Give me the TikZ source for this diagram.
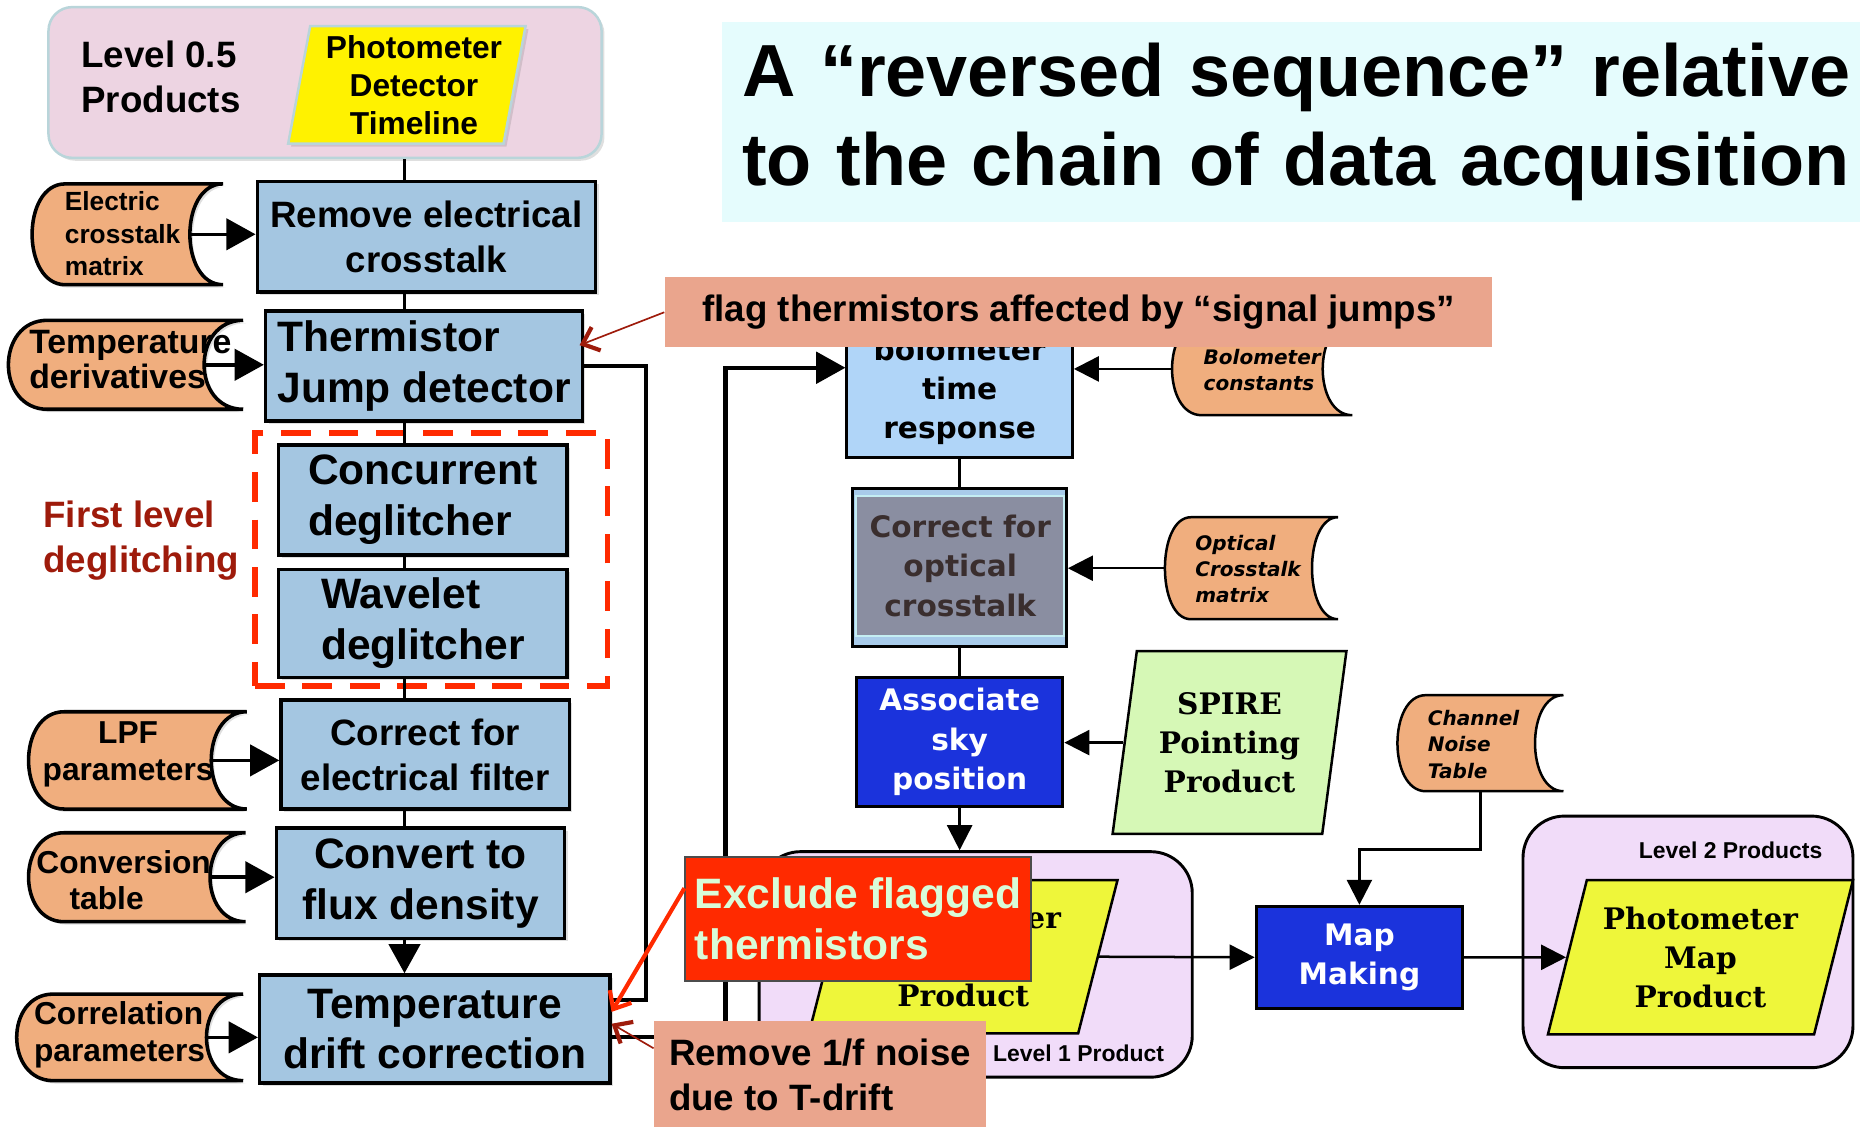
\documentclass[tikz,border=0pt]{standalone}
\usepackage{fontspec}
\setmainfont{Liberation Sans}
\newfontfamily\dejasans{DejaVu Sans}
\newfontfamily\dejaserif{DejaVu Serif}
\usepackage{xcolor}
\usepackage{tikz}
\usetikzlibrary{shapes.geometric, arrows.meta, positioning, shadows}

\definecolor{stepblue}{HTML}{A4C6E1}
\definecolor{tapeorange}{HTML}{F0AE7E}
\definecolor{levelpink}{HTML}{EDD4E2}
\definecolor{levelrim}{HTML}{B9D5DA}
\definecolor{titlecyan}{HTML}{E5FCFD}
\definecolor{notesalmon}{HTML}{EAA58D}
\definecolor{alertred}{HTML}{FF2A00}
\definecolor{alertgreen}{HTML}{D9FCD9}
\definecolor{darkred}{HTML}{9E1B0B}
\definecolor{bolofill}{HTML}{B0D5F8}
\definecolor{opticouter}{HTML}{A8CBEA}
\definecolor{opticgrey}{HTML}{8A8EA1}
\definecolor{opticrim}{HTML}{C4EEF3}
\definecolor{optictext}{HTML}{3A2E2E}
\definecolor{procblue}{HTML}{1B33DC}
\definecolor{pointgreen}{HTML}{D6F8B6}
\definecolor{prodyellow}{HTML}{EEF63A}
\definecolor{prodlavender}{HTML}{F1DCF9}

\newcommand{\fnttitle}{\fontsize{17.7}{21.3}\selectfont\bfseries}
\newcommand{\fntstep}{\fontsize{8.8}{10.8}\selectfont\bfseries}
\newcommand{\fntbigstep}{\fontsize{10.2}{12.2}\selectfont\bfseries}
\newcommand{\fnttape}{\fontsize{7.6}{8.8}\selectfont\bfseries}
\newcommand{\fntsmalltape}{\fontsize{6.3}{7.7}\selectfont\bfseries}
\newcommand{\fntwidetape}{\fontsize{8.1}{8.5}\selectfont\bfseries}
\newcommand{\fntpdt}{\fontsize{7.6}{9.1}\selectfont\bfseries}
\newcommand{\fntpipe}{\dejasans\fontsize{7.1}{9.4}\selectfont\bfseries}
\newcommand{\fntpipetape}{\dejasans\fontsize{4.8}{6.3}\selectfont\bfseries\itshape}
\newcommand{\fntprod}{\dejaserif\fontsize{7.1}{9.4}\selectfont\bfseries}
\newcommand{\fntlevel}{\fontsize{5.5}{6.6}\selectfont\bfseries}

% name, x1, y1, x2, y2, curve depth, style
\newcommand{\datatape}[7]{%
  \path[#7] (#2+#6,#3) -- (#4,#3)
    .. controls (#4-1.33*#6,#3) and (#4-1.33*#6,#5) .. (#4,#5)
    -- (#2+#6,#5)
    .. controls (#2-0.33*#6,#5) and (#2-0.33*#6,#3) .. (#2+#6,#3) -- cycle;
  \coordinate (#1-in) at (#4-#6,{(#3+#5)/2});
  \coordinate (#1-out) at (#2,{(#3+#5)/2});
  \coordinate (#1-s) at ({(#2+#4)/2},#5);
}

\begin{document}
\begin{tikzpicture}[
    x=0.01cm, y=-0.01cm,
    stepbox/.style={rectangle, draw, line width=0.85pt, fill=stepblue, align=center, inner sep=0pt,
        drop shadow={opacity=0.25, shadow xshift=0.7pt, shadow yshift=-0.7pt}},
    datastore/.style={draw, line width=0.85pt, fill=tapeorange,
        drop shadow={opacity=0.25, shadow xshift=0.7pt, shadow yshift=-0.7pt}},
    thinstore/.style={draw, line width=0.6pt, fill=tapeorange},
    tapetext/.style={anchor=west, align=left, font=\fnttape, inner sep=0pt},
    pipetext/.style={anchor=west, align=left, font=\fntpipetape, inner sep=0pt},
    pipebox/.style={rectangle, draw, line width=0.7pt, align=center, inner sep=0pt, font=\fntpipe},
    product/.style={trapezium, trapezium stretches body=true, draw, line width=0.6pt, align=center, inner sep=0pt, font=\fntprod},
    container/.style={rectangle, rounded corners=0.35cm, draw, line width=0.7pt, fill=prodlavender},
    note/.style={rectangle, fill=notesalmon, align=left, inner sep=0pt, font=\fntstep},
    link/.style={line width=0.85pt},
    pipelink/.style={line width=0.6pt},
    arrow/.style={-{Triangle[length=7pt, width=7.5pt]}, line width=0.85pt},
    pipearrow/.style={-{Triangle[length=6pt, width=6pt]}, line width=0.6pt},
    pointer/.style={-{Straight Barb[length=3.5pt, width=6pt, line width=1pt]}, line width=0.4pt, draw=darkred},
    alertarrow/.style={-{Straight Barb[length=3.5pt, width=6pt, line width=1pt]}, line width=1pt, draw=alertred}
]
    \useasboundingbox (0,0) rectangle (1568,950);

    \node[fill=titlecyan, anchor=north west, minimum width=9.6cm, minimum height=1.68cm, text width=9.6cm, inner xsep=0.17cm, align=left, font=\fnttitle] (title) at (608,18) {A “reversed sequence” relative\\to the chain of data acquisition};

    \node[rectangle, rounded corners=0.2cm, draw=levelrim, line width=0.6pt, fill=levelpink, minimum width=4.66cm, minimum height=1.27cm, drop shadow={opacity=0.25, shadow xshift=0.7pt, shadow yshift=-0.7pt}] (lvl05) at (274,69.5) {};
    \node[anchor=west, align=left, font=\fntstep, inner sep=0pt] (lvl05lab) at (68,65) {Level 0.5\\Products};
    \node[trapezium, trapezium left angle=77.5, trapezium right angle=102.5, trapezium stretches body=true, fill=yellow, draw=levelrim, line width=0.6pt, minimum width=2cm, minimum height=0.99cm, inner sep=0pt, align=center, font=\fntpdt, drop shadow={opacity=0.25, shadow xshift=0.7pt, shadow yshift=-0.7pt}] (pdt) at (343,71.5) {\hspace*{0.12cm}Photometer\\\hspace*{0.12cm}Detector\\\hspace*{0.12cm}Timeline};

    \datatape{ectm}{27}{155}{188}{240}{28}{datastore}
    \node[tapetext, font=\fntsmalltape] (ectm) at (54,197) {Electric\\crosstalk\\matrix};
    \datatape{tder}{7}{270}{205}{345}{33}{datastore}
    \node[tapetext, font=\fntwidetape] (tder) at (24,303) {Temperature\\derivatives};
    \datatape{lpf}{24}{600}{208}{682}{30}{datastore}
    \node[tapetext, anchor=center, align=center] (lpf) at (108,636) {LPF\\parameters};
    \datatape{conv}{24}{702}{207}{777}{30}{datastore}
    \node[tapetext] (conv) at (30,742) {Conversion\\\hspace*{0.28cm}table};
    \datatape{corr}{14}{838}{205}{911}{31}{datastore}
    \node[tapetext] (corr) at (28,872.5) {Correlation\\parameters};

    \node[stepbox, font=\fntstep, minimum width=2.85cm, minimum height=0.93cm] (rmxt) at (359.5,199.5) {Remove electrical\\crosstalk};
    \node[stepbox, font=\fntbigstep, align=left, minimum width=2.67cm, minimum height=0.93cm] (thjd) at (357.5,308.5) {Thermistor\\Jump detector};
    \node[stepbox, font=\fntbigstep, align=left, minimum width=2.43cm, minimum height=0.93cm] (ccdg) at (356.5,421.5) {Concurrent\\deglitcher};
    \node[stepbox, font=\fntbigstep, align=left, minimum width=2.43cm, minimum height=0.91cm] (wvdg) at (356.5,525.5) {Wavelet\\deglitcher};
    \node[stepbox, font=\fntstep, minimum width=2.43cm, minimum height=0.92cm] (elfl) at (358.5,636) {Correct for\\electrical filter};
    \node[stepbox, font=\fntbigstep, minimum width=2.43cm, minimum height=0.93cm] (flux) at (354.5,744.5) {Convert to\\flux density};
    \node[stepbox, font=\fntbigstep, minimum width=2.95cm, minimum height=0.91cm] (tdrc) at (366.5,867.5) {Temperature\\drift correction};

    \node[draw=alertred, line width=1.4pt, dash pattern=on 0.25cm off 0.15cm, minimum width=2.97cm, minimum height=2.13cm] (dgl) at (363.5,471.5) {};
    \node[anchor=west, align=left, font=\fntstep, text=darkred, inner sep=0pt] (fld) at (36,455.5) {First level\\deglitching};

    \coordinate (trunk) at (341,0);
    \draw[link] (lvl05.south -| trunk) -- (rmxt.north -| trunk);
    \draw[link] (rmxt.south -| trunk) -- (thjd.north -| trunk);
    \draw[link] (thjd.south -| trunk) -- (ccdg.north -| trunk);
    \draw[link] (ccdg.south -| trunk) -- (wvdg.north -| trunk);
    \draw[link] (wvdg.south -| trunk) -- (elfl.north -| trunk);
    \draw[link] (elfl.south -| trunk) -- (flux.north -| trunk);
    \draw[arrow] (flux.south -| trunk) -- (tdrc.north -| trunk);

    \draw[arrow] (ectm-in) -- (ectm-in -| rmxt.west);
    \draw[arrow] (tder-in) -- (tder-in -| thjd.west);
    \draw[arrow] (lpf-in) -- (lpf-in -| elfl.west);
    \draw[arrow] (conv-in) -- (conv-in -| flux.west);
    \draw[arrow] (corr-in) -- (corr-in -| tdrc.west);

    \node[container, minimum width=3.65cm, minimum height=1.9cm] (l1box) at (822.5,813) {};
    \node[product, fill=prodyellow, trapezium left angle=68.8, trapezium right angle=111.2, minimum width=2.6cm, minimum height=1.29cm] (l1prod) at (812,806.5) {Photometer\\[9.4pt]Product};
    \node[font=\fntlevel, anchor=east, inner sep=0pt] (l1lab) at (982,888) {Level 1 Product};

    \node[container, minimum width=2.78cm, minimum height=2.12cm] (l2box) at (1423,794) {};
    \node[product, fill=prodyellow, trapezium left angle=69, trapezium right angle=111, minimum width=2.57cm, minimum height=1.3cm] (l2prod) at (1433.5,807) {Photometer\\Map\\Product};
    \node[font=\fntlevel, anchor=east, inner sep=0pt] (l2lab) at (1537,717) {Level 2 Products};

    \node[pipebox, fill=bolofill, minimum width=1.9cm, minimum height=1.12cm] (bolo) at (809,330) {bolometer\\time\\response};
    \node[pipebox, fill=opticouter, minimum width=1.8cm, minimum height=1.33cm] (optx) at (809,478.5) {};
    \node[rectangle, fill=opticgrey, draw=opticrim, line width=0.5pt, minimum width=1.75cm, minimum height=1.18cm, font=\fntpipe, text=optictext, align=center, inner sep=0pt] (optxin) at (809.5,477) {Correct for\\optical\\crosstalk};
    \node[pipebox, fill=procblue, text=white, minimum width=1.74cm, minimum height=1.09cm] (assoc) at (809,625.5) {Associate\\sky\\position};
    \node[product, fill=pointgreen, trapezium left angle=76.5, trapezium right angle=103.5, minimum width=1.97cm, minimum height=1.54cm] (spire) at (1036.5,626) {SPIRE\\Pointing\\Product};
    \node[pipebox, fill=procblue, text=white, minimum width=1.74cm, minimum height=0.86cm] (mapmk) at (1146,807) {Map\\Making};

    \datatape{bolc}{988}{272}{1140}{350}{25}{thinstore}
    \node[pipetext] (bolc) at (1014,312) {Bolometer\\constants};
    \datatape{optm}{982}{436}{1128}{522}{22}{thinstore}
    \node[pipetext] (optm) at (1007,479.5) {Optical\\Crosstalk\\matrix};
    \datatape{chnt}{1178}{586}{1318}{667}{24}{thinstore}
    \node[pipetext] (chnt) at (1203,627.5) {Channel\\Noise\\Table};

    \draw[pipelink] (bolo.south) -- (optx.north);
    \draw[pipelink] (optx.south) -- (assoc.north);
    \draw[pipearrow] (bolc-out) -- (bolc-out -| bolo.east);
    \draw[pipearrow] (optm-out) -- (optm-out -| optx.east);
    \draw[pipearrow] (spire.west) -- (spire.west -| assoc.east);
    \draw[pipearrow] (assoc.south) -- (assoc.south |- l1box.north);
    \draw[pipearrow] (l1prod.east) -- (mapmk.west);
    \draw[pipearrow] (mapmk.east) -- (l2prod.west);
    \draw[pipearrow] (chnt-s) -- ++(0,49) -| (mapmk.north);

    \draw[link, line width=1pt] (thjd.east) -- ++(52,0) |- ([yshift=0.245cm]tdrc.east);
    \draw[arrow, line width=1pt] ([yshift=-0.065cm]tdrc.east) -- ++(96,0) |- ([yshift=0.2cm]bolo.west);

    \node[note, align=center, anchor=north west, minimum width=6.97cm, minimum height=0.59cm] (flag) at (560,233) {flag thermistors affected by “signal jumps”};
    \draw[pointer] (flag.west) -- ([xshift=-0.04cm, yshift=0.175cm]thjd.east);

    \node[rectangle, fill=alertred, draw=black!70, line width=0.4pt, font=\fntbigstep, text=alertgreen, align=left, inner sep=0pt, minimum width=2.91cm, minimum height=1.04cm, anchor=north west] (excl) at (577,722) {Exclude flagged\\thermistors};
    \draw[alertarrow] ([yshift=0.26cm]excl.west) -- ([yshift=0.145cm]tdrc.east);

    \node[note, anchor=north west, minimum width=2.79cm, minimum height=0.9cm] (onef) at (551,860) {Remove 1/f noise\\due to T-drift};
    \draw[pointer] ([yshift=0.22cm]onef.west) -- ([yshift=0.045cm]tdrc.east);
\end{tikzpicture}
\end{document}
